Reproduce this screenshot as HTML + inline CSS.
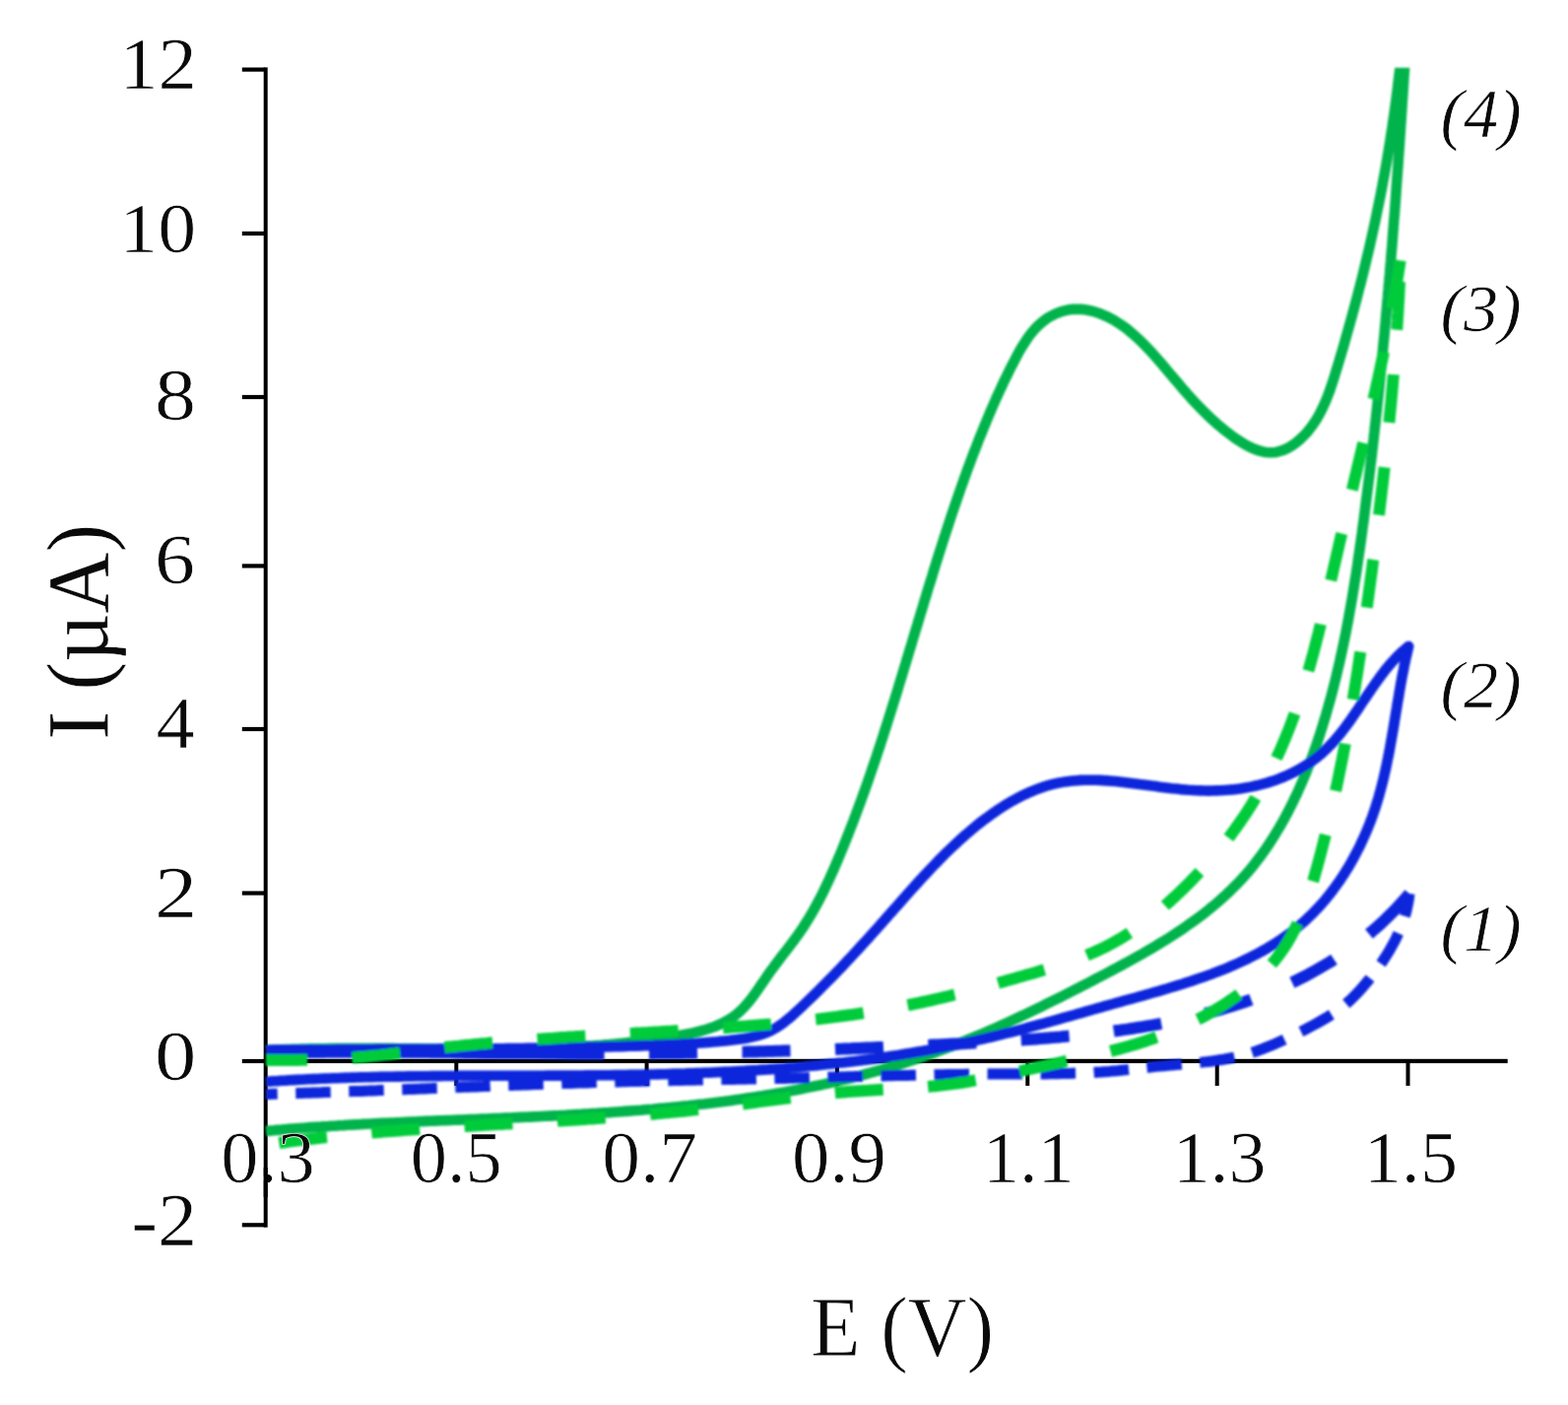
<!DOCTYPE html>
<html lang="en"><head><meta charset="utf-8"><title>Cyclic voltammograms</title>
<style>html,body{margin:0;padding:0;background:#fff}body{width:1592px;height:1426px;overflow:hidden}svg{display:block}text{font-family:"Liberation Serif",serif;fill:#0a0a0a}.c{fill:none;stroke-linejoin:round}</style></head><body>
<svg width="1592" height="1426" viewBox="0 0 1592 1426" role="img" aria-label="Cyclic voltammograms, I (µA) versus E (V)">
<rect width="1592" height="1426" fill="#fff"/>
<g fill="#000">
<rect x="267.7" y="68.4" width="4" height="1177.3"/>
<rect x="267.7" y="1074.8" width="1263" height="4.3"/>
<rect x="245.8" y="68.5" width="23" height="4.2"/>
<rect x="245.8" y="234.9" width="23" height="4.2"/>
<rect x="245.8" y="400.9" width="23" height="4.2"/>
<rect x="245.8" y="572.3" width="23" height="4.2"/>
<rect x="245.8" y="737.9" width="23" height="4.2"/>
<rect x="245.8" y="904.4" width="23" height="4.2"/>
<rect x="245.8" y="1074.9" width="23" height="4.2"/>
<rect x="245.8" y="1241.2" width="23" height="4.2"/>
<rect x="461.3" y="1077" width="4" height="25"/>
<rect x="654.6" y="1077" width="4" height="25"/>
<rect x="847.9" y="1077" width="4" height="25"/>
<rect x="1041.3" y="1077" width="4" height="25"/>
<rect x="1233.7" y="1077" width="4" height="25"/>
<rect x="1427.5" y="1077" width="4" height="25"/>
</g>
<defs><filter id="soft" x="0" y="0" width="1592" height="1426" filterUnits="userSpaceOnUse"><feGaussianBlur stdDeviation="1.1"/></filter></defs>
<g class="c" filter="url(#soft)">
<path d="M270.0,1066.0L274.0,1065.8L278.1,1065.6L282.1,1065.4L286.2,1065.3L290.2,1065.1L294.3,1065.0L298.3,1064.8L302.3,1064.7L306.4,1064.6L310.4,1064.5L314.4,1064.4L318.5,1064.3L322.5,1064.3L326.5,1064.2L330.5,1064.2L334.6,1064.1L338.6,1064.1L342.6,1064.0L346.6,1064.0L350.6,1064.0L354.7,1064.0L358.7,1064.0L362.7,1064.0L366.7,1064.0L370.7,1064.0L374.7,1064.0L378.7,1064.0L382.8,1064.0L386.8,1064.1L390.8,1064.1L394.8,1064.1L398.8,1064.1L402.8,1064.2L406.8,1064.2L410.8,1064.3L414.8,1064.3L418.8,1064.3L422.8,1064.4L426.8,1064.4L430.8,1064.5L434.8,1064.5L438.8,1064.6L442.8,1064.6L446.8,1064.6L450.8,1064.7L454.8,1064.7L458.8,1064.7L462.8,1064.8L466.8,1064.8L470.8,1064.8L474.8,1064.8L478.8,1064.8L482.8,1064.8L486.8,1064.9L490.8,1064.9L494.8,1064.8L498.8,1064.8L502.8,1064.8L506.8,1064.8L510.7,1064.8L514.7,1064.7L518.7,1064.7L522.7,1064.6L526.7,1064.6L530.7,1064.5L534.7,1064.4L538.7,1064.3L542.7,1064.2L546.7,1064.1L550.7,1064.0L554.7,1063.9L558.7,1063.7L562.7,1063.6L566.7,1063.4L570.7,1063.2L574.7,1063.0L578.7,1062.8L582.7,1062.6L586.7,1062.4L590.7,1062.2L594.7,1061.9L598.8,1061.6L602.8,1061.4L606.8,1061.1L610.8,1060.8L614.8,1060.4L618.8,1060.1L622.8,1059.7L626.8,1059.3L630.8,1058.9L634.9,1058.5L638.9,1058.1L642.9,1057.7L646.9,1057.2L650.9,1056.7L654.9,1056.2L659.0,1055.7L663.0,1055.1L667.0,1054.6L671.0,1054.0L675.1,1053.4L679.1,1052.8L683.1,1052.1L687.2,1051.5L691.2,1050.8L695.2,1050.0L699.2,1049.2L703.2,1048.4L707.2,1047.5L711.1,1046.5L714.9,1045.5L718.7,1044.3L722.5,1043.0L726.2,1041.7L729.8,1040.1L733.3,1038.5L736.8,1036.7L740.1,1034.8L743.4,1032.7L746.5,1030.4L749.6,1028.0L752.5,1025.3L755.3,1022.5L757.9,1019.5L760.6,1016.4L763.1,1013.2L765.6,1009.9L768.0,1006.5L770.4,1003.1L772.7,999.6L775.1,996.2L777.5,992.7L779.8,989.3L782.2,985.9L784.7,982.6L787.1,979.3L789.6,976.1L792.0,972.8L794.5,969.6L796.9,966.4L799.4,963.3L801.8,960.1L804.2,956.9L806.6,953.7L808.9,950.5L811.2,947.3L813.5,944.0L815.7,940.8L817.8,937.4L819.9,934.1L822.0,930.7L824.0,927.3L826.0,923.9L827.9,920.4L829.8,916.9L831.7,913.4L833.5,909.9L835.3,906.3L837.1,902.7L838.8,899.1L840.5,895.5L842.2,891.9L843.8,888.2L845.5,884.6L847.1,880.9L848.7,877.2L850.2,873.6L851.8,869.9L853.3,866.2L854.9,862.5L856.4,858.8L857.9,855.1L859.4,851.3L860.9,847.6L862.3,843.9L863.8,840.1L865.2,836.4L866.7,832.7L868.1,828.9L869.5,825.2L870.9,821.4L872.3,817.6L873.7,813.9L875.1,810.1L876.4,806.3L877.8,802.6L879.1,798.8L880.5,795.0L881.8,791.2L883.1,787.4L884.4,783.6L885.7,779.8L887.0,776.0L888.3,772.2L889.6,768.4L890.8,764.6L892.1,760.8L893.4,757.0L894.6,753.1L895.9,749.3L897.1,745.5L898.3,741.7L899.6,737.8L900.8,734.0L902.0,730.2L903.2,726.3L904.4,722.5L905.6,718.7L906.8,714.8L908.0,711.0L909.2,707.1L910.4,703.3L911.6,699.4L912.7,695.6L913.9,691.7L915.1,687.9L916.3,684.0L917.4,680.2L918.6,676.3L919.8,672.5L920.9,668.6L922.1,664.8L923.2,660.9L924.4,657.1L925.6,653.2L926.7,649.4L927.9,645.5L929.0,641.7L930.2,637.8L931.4,634.0L932.5,630.1L933.7,626.3L934.8,622.4L936.0,618.6L937.2,614.7L938.3,610.9L939.5,607.0L940.7,603.2L941.8,599.3L943.0,595.5L944.2,591.6L945.4,587.8L946.6,584.0L947.7,580.1L948.9,576.3L950.1,572.5L951.3,568.6L952.5,564.8L953.7,561.0L955.0,557.2L956.2,553.3L957.4,549.5L958.6,545.7L959.9,541.9L961.1,538.1L962.4,534.3L963.6,530.5L964.9,526.7L966.1,522.9L967.4,519.1L968.7,515.3L970.0,511.5L971.3,507.7L972.6,504.0L973.9,500.2L975.2,496.4L976.5,492.7L977.9,488.9L979.2,485.1L980.6,481.4L981.9,477.6L983.3,473.9L984.7,470.2L986.1,466.4L987.5,462.7L988.9,459.0L990.4,455.3L991.8,451.6L993.2,447.8L994.7,444.1L996.2,440.4L997.7,436.8L999.2,433.1L1000.7,429.4L1002.2,425.7L1003.8,422.0L1005.3,418.4L1006.9,414.7L1008.5,411.0L1010.1,407.4L1011.7,403.7L1013.4,400.1L1015.1,396.4L1016.8,392.7L1018.5,389.1L1020.2,385.4L1022.0,381.8L1023.8,378.1L1025.6,374.4L1027.5,370.8L1029.4,367.1L1031.3,363.4L1033.2,359.8L1035.2,356.1L1037.3,352.6L1039.5,349.1L1041.7,345.6L1044.0,342.3L1046.4,339.0L1049.0,335.9L1051.6,333.0L1054.4,330.2L1057.4,327.5L1060.5,325.1L1063.7,322.8L1067.1,320.8L1070.6,319.0L1074.3,317.4L1078.0,316.1L1081.8,315.1L1085.6,314.3L1089.6,313.9L1093.5,313.7L1097.5,313.9L1101.4,314.3L1105.4,315.0L1109.3,315.9L1113.1,317.0L1116.8,318.3L1120.5,319.8L1124.1,321.4L1127.6,323.2L1131.1,325.1L1134.5,327.2L1137.8,329.3L1141.1,331.6L1144.3,334.0L1147.4,336.6L1150.5,339.2L1153.5,341.9L1156.5,344.6L1159.5,347.5L1162.4,350.4L1165.2,353.4L1168.1,356.4L1170.9,359.5L1173.6,362.5L1176.4,365.7L1179.1,368.8L1181.8,372.0L1184.4,375.1L1187.1,378.3L1189.7,381.4L1192.3,384.5L1195.0,387.6L1197.6,390.7L1200.2,393.8L1202.8,396.8L1205.4,399.8L1208.1,402.7L1210.7,405.7L1213.4,408.6L1216.1,411.4L1218.9,414.3L1221.6,417.1L1224.5,419.9L1227.3,422.6L1230.2,425.3L1233.2,428.0L1236.2,430.7L1239.3,433.3L1242.4,435.9L1245.6,438.4L1248.9,440.9L1252.3,443.4L1255.7,445.8L1259.2,448.1L1262.8,450.3L1266.4,452.3L1270.0,454.2L1273.7,455.8L1277.4,457.1L1281.1,458.2L1284.7,458.9L1288.4,459.3L1292.0,459.3L1295.6,458.9L1299.2,458.0L1302.7,456.9L1306.2,455.4L1309.5,453.6L1312.8,451.5L1316.0,449.2L1319.1,446.7L1322.0,444.0L1324.8,441.2L1327.5,438.2L1330.0,435.1L1332.4,431.9L1334.7,428.6L1336.8,425.3L1338.8,421.8L1340.7,418.3L1342.5,414.7L1344.2,411.0L1345.8,407.3L1347.4,403.5L1348.9,399.7L1350.3,395.9L1351.6,392.0L1352.9,388.1L1354.2,384.2L1355.4,380.3L1356.6,376.3L1357.8,372.4L1359.0,368.5L1360.2,364.5L1361.3,360.6L1362.5,356.7L1363.7,352.8L1364.8,348.8L1365.9,344.9L1367.0,341.0L1368.1,337.1L1369.2,333.2L1370.3,329.3L1371.4,325.4L1372.5,321.5L1373.5,317.6L1374.6,313.8L1375.6,309.9L1376.7,306.0L1377.7,302.1L1378.7,298.2L1379.7,294.3L1380.7,290.5L1381.7,286.6L1382.7,282.7L1383.7,278.8L1384.6,275.0L1385.6,271.1L1386.5,267.2L1387.4,263.3L1388.3,259.5L1389.3,255.6L1390.2,251.7L1391.1,247.8L1391.9,244.0L1392.8,240.1L1393.7,236.2L1394.5,232.3L1395.4,228.4L1396.2,224.6L1397.0,220.7L1397.8,216.8L1398.6,212.9L1399.4,209.0L1400.2,205.1L1401.0,201.2L1401.8,197.3L1402.5,193.4L1403.3,189.5L1404.0,185.6L1404.7,181.7L1405.5,177.8L1406.2,173.8L1406.9,169.9L1407.6,166.0L1408.3,162.0L1408.9,158.1L1409.6,154.2L1410.2,150.2L1410.9,146.3L1411.5,142.3L1412.1,138.3L1412.7,134.4L1413.4,130.4L1413.9,126.4L1414.5,122.4L1415.1,118.4L1415.7,114.4L1416.2,110.4L1416.8,106.4L1417.3,102.4L1417.8,98.3L1418.3,94.3L1418.9,90.2L1419.3,86.2L1419.8,82.1L1420.3,78.1L1420.8,74.0L1425.7,74.0L1425.4,78.0L1425.2,82.0L1424.9,86.0L1424.7,90.0L1424.4,94.0L1424.2,97.9L1423.9,101.9L1423.6,105.9L1423.4,109.9L1423.1,113.9L1422.8,117.9L1422.6,121.9L1422.3,125.9L1422.0,129.9L1421.8,133.9L1421.5,137.9L1421.2,141.9L1421.0,145.9L1420.7,149.9L1420.4,153.9L1420.1,157.9L1419.8,161.9L1419.6,165.9L1419.3,169.9L1419.0,173.9L1418.7,177.9L1418.4,181.9L1418.1,185.9L1417.8,189.9L1417.5,193.9L1417.3,197.9L1417.0,201.9L1416.7,205.9L1416.4,209.9L1416.1,213.9L1415.8,217.9L1415.4,221.9L1415.1,226.0L1414.8,230.0L1414.5,234.0L1414.2,238.0L1413.9,242.0L1413.6,246.0L1413.3,250.0L1412.9,254.0L1412.6,258.0L1412.3,262.0L1412.0,266.0L1411.6,270.0L1411.3,274.0L1411.0,278.0L1410.6,282.0L1410.3,286.0L1409.9,290.0L1409.6,294.0L1409.2,298.0L1408.9,302.0L1408.5,306.1L1408.2,310.1L1407.8,314.1L1407.5,318.1L1407.1,322.1L1406.8,326.1L1406.4,330.1L1406.0,334.1L1405.7,338.1L1405.3,342.1L1404.9,346.1L1404.5,350.1L1404.1,354.1L1403.8,358.1L1403.4,362.1L1403.0,366.1L1402.6,370.1L1402.2,374.1L1401.8,378.1L1401.4,382.1L1401.0,386.1L1400.6,390.0L1400.2,394.0L1399.8,398.0L1399.4,402.0L1398.9,406.0L1398.5,410.0L1398.1,414.0L1397.7,418.0L1397.2,422.0L1396.8,426.0L1396.4,430.0L1395.9,433.9L1395.5,437.9L1395.0,441.9L1394.6,445.9L1394.1,449.9L1393.7,453.9L1393.2,457.8L1392.8,461.8L1392.3,465.8L1391.8,469.8L1391.3,473.8L1390.9,477.7L1390.4,481.7L1389.9,485.7L1389.4,489.7L1388.9,493.6L1388.4,497.6L1387.9,501.6L1387.4,505.5L1386.9,509.5L1386.4,513.5L1385.9,517.4L1385.4,521.4L1384.9,525.4L1384.4,529.3L1383.8,533.3L1383.3,537.2L1382.8,541.2L1382.2,545.2L1381.7,549.1L1381.1,553.1L1380.6,557.0L1380.0,561.0L1379.4,564.9L1378.8,568.9L1378.3,572.8L1377.7,576.8L1377.1,580.7L1376.5,584.6L1375.8,588.6L1375.2,592.5L1374.6,596.5L1373.9,600.4L1373.3,604.3L1372.6,608.3L1371.9,612.2L1371.2,616.2L1370.5,620.1L1369.8,624.0L1369.1,628.0L1368.4,631.9L1367.6,635.8L1366.9,639.7L1366.1,643.7L1365.3,647.6L1364.5,651.5L1363.7,655.5L1362.8,659.4L1362.0,663.3L1361.1,667.2L1360.3,671.1L1359.4,675.1L1358.4,679.0L1357.5,682.9L1356.6,686.8L1355.6,690.7L1354.6,694.7L1353.6,698.6L1352.6,702.5L1351.6,706.4L1350.5,710.3L1349.4,714.2L1348.3,718.1L1347.2,722.0L1346.1,726.0L1344.9,729.9L1343.7,733.8L1342.5,737.7L1341.3,741.5L1340.1,745.4L1338.8,749.3L1337.5,753.2L1336.2,757.0L1334.8,760.9L1333.5,764.7L1332.1,768.5L1330.6,772.3L1329.2,776.1L1327.7,779.9L1326.2,783.7L1324.7,787.4L1323.1,791.2L1321.5,794.9L1319.9,798.6L1318.2,802.3L1316.6,806.0L1314.8,809.6L1313.1,813.3L1311.3,816.9L1309.5,820.4L1307.7,824.0L1305.8,827.5L1303.9,831.1L1302.0,834.5L1300.0,838.0L1298.0,841.4L1295.9,844.8L1293.9,848.2L1291.7,851.6L1289.6,854.9L1287.4,858.2L1285.2,861.4L1282.9,864.7L1280.6,867.9L1278.3,871.0L1275.9,874.1L1273.5,877.2L1271.0,880.3L1268.5,883.3L1266.0,886.3L1263.4,889.2L1260.8,892.1L1258.1,895.0L1255.4,897.8L1252.6,900.6L1249.9,903.3L1247.0,906.0L1244.2,908.7L1241.3,911.3L1238.3,913.9L1235.4,916.5L1232.4,919.0L1229.3,921.5L1226.3,924.0L1223.2,926.5L1220.0,928.9L1216.9,931.3L1213.7,933.6L1210.5,935.9L1207.2,938.2L1204.0,940.5L1200.7,942.8L1197.4,945.0L1194.0,947.2L1190.7,949.4L1187.3,951.6L1183.9,953.7L1180.5,955.8L1177.0,957.9L1173.6,960.0L1170.1,962.1L1166.6,964.1L1163.1,966.1L1159.6,968.2L1156.1,970.2L1152.5,972.2L1149.0,974.1L1145.4,976.1L1141.8,978.0L1138.2,980.0L1134.7,981.9L1131.1,983.8L1127.5,985.7L1123.9,987.7L1120.3,989.6L1116.6,991.4L1113.0,993.3L1109.4,995.2L1105.8,997.1L1102.2,999.0L1098.6,1000.8L1094.9,1002.7L1091.3,1004.5L1087.7,1006.4L1084.1,1008.2L1080.4,1010.1L1076.8,1011.9L1073.2,1013.7L1069.5,1015.5L1065.9,1017.3L1062.3,1019.1L1058.6,1020.9L1055.0,1022.7L1051.3,1024.5L1047.7,1026.2L1044.0,1028.0L1040.4,1029.7L1036.7,1031.4L1033.1,1033.1L1029.4,1034.8L1025.7,1036.5L1022.1,1038.2L1018.4,1039.9L1014.7,1041.5L1011.0,1043.2L1007.4,1044.8L1003.7,1046.4L1000.0,1048.0L996.3,1049.6L992.6,1051.1L988.9,1052.7L985.2,1054.2L981.5,1055.7L977.8,1057.3L974.0,1058.7L970.3,1060.2L966.6,1061.7L962.8,1063.1L959.1,1064.5L955.4,1065.9L951.6,1067.3L947.9,1068.7L944.1,1070.0L940.3,1071.3L936.6,1072.7L932.8,1073.9L929.0,1075.2L925.2,1076.5L921.4,1077.7L917.7,1078.9L913.9,1080.1L910.1,1081.3L906.2,1082.4L902.4,1083.6L898.6,1084.7L894.8,1085.8L891.0,1086.9L887.1,1087.9L883.3,1089.0L879.5,1090.0L875.6,1091.1L871.8,1092.1L867.9,1093.0L864.0,1094.0L860.2,1095.0L856.3,1095.9L852.5,1096.8L848.6,1097.7L844.7,1098.6L840.8,1099.5L836.9,1100.4L833.0,1101.2L829.1,1102.0L825.2,1102.8L821.3,1103.6L817.4,1104.4L813.5,1105.2L809.6,1106.0L805.7,1106.7L801.8,1107.4L797.9,1108.2L793.9,1108.9L790.0,1109.5L786.1,1110.2L782.1,1110.9L778.2,1111.5L774.3,1112.2L770.3,1112.8L766.4,1113.4L762.4,1114.0L758.5,1114.6L754.5,1115.2L750.6,1115.8L746.6,1116.3L742.6,1116.9L738.7,1117.4L734.7,1117.9L730.7,1118.4L726.7,1118.9L722.8,1119.4L718.8,1119.9L714.8,1120.4L710.8,1120.8L706.8,1121.3L702.8,1121.7L698.9,1122.2L694.9,1122.6L690.9,1123.0L686.9,1123.4L682.9,1123.8L678.9,1124.2L674.9,1124.6L670.9,1124.9L666.9,1125.3L662.9,1125.7L658.8,1126.0L654.8,1126.3L650.8,1126.7L646.8,1127.0L642.8,1127.3L638.8,1127.6L634.8,1127.9L630.7,1128.2L626.7,1128.5L622.7,1128.8L618.7,1129.1L614.6,1129.3L610.6,1129.6L606.6,1129.9L602.6,1130.1L598.5,1130.4L594.5,1130.6L590.5,1130.9L586.5,1131.1L582.4,1131.3L578.4,1131.5L574.4,1131.8L570.3,1132.0L566.3,1132.2L562.3,1132.4L558.2,1132.6L554.2,1132.8L550.2,1133.0L546.1,1133.2L542.1,1133.4L538.0,1133.6L534.0,1133.8L530.0,1133.9L525.9,1134.1L521.9,1134.3L517.9,1134.5L513.8,1134.6L509.8,1134.8L505.8,1135.0L501.7,1135.1L497.7,1135.3L493.7,1135.5L489.6,1135.6L485.6,1135.8L481.6,1136.0L477.5,1136.1L473.5,1136.3L469.5,1136.5L465.5,1136.6L461.4,1136.8L457.4,1137.0L453.4,1137.1L449.3,1137.3L445.3,1137.4L441.3,1137.6L437.3,1137.8L433.3,1137.9L429.2,1138.1L425.2,1138.3L421.2,1138.5L417.2,1138.6L413.2,1138.8L409.2,1139.0L405.1,1139.2L401.1,1139.4L397.1,1139.5L393.1,1139.7L389.1,1139.9L385.1,1140.1L381.1,1140.3L377.1,1140.5L373.1,1140.7L369.1,1140.9L365.1,1141.2L361.1,1141.4L357.1,1141.6L353.2,1141.8L349.2,1142.1L345.2,1142.3L341.2,1142.6L337.2,1142.8L333.3,1143.1L329.3,1143.3L325.3,1143.6L321.3,1143.8L317.4,1144.1L313.4,1144.4L309.5,1144.7L305.5,1145.0L301.5,1145.3L297.6,1145.6L293.6,1145.9L289.7,1146.2L285.8,1146.6L281.8,1146.9L277.9,1147.3L273.9,1147.6L270.0,1148.0" stroke="#00b44c" stroke-width="10.6" stroke-linejoin="miter"/>
<path d="M1431.0,907.0L1428.4,910.1L1425.7,913.2L1422.9,916.3L1420.2,919.3L1417.4,922.3L1414.6,925.2L1411.7,928.1L1408.8,930.9L1405.9,933.7L1403.0,936.5L1400.0,939.2L1397.0,941.9L1393.9,944.5L1390.9,947.1L1387.8,949.7L1384.7,952.2L1381.5,954.7L1378.3,957.1L1375.1,959.5L1371.9,961.9L1368.7,964.2L1365.4,966.5L1362.1,968.7L1358.8,970.9L1355.4,973.1L1352.1,975.3L1348.7,977.4L1345.2,979.4L1341.8,981.4L1338.4,983.4L1334.9,985.4L1331.4,987.3L1327.9,989.2L1324.3,991.1L1320.8,992.9L1317.2,994.7L1313.6,996.4L1310.0,998.1L1306.4,999.8L1302.8,1001.5L1299.1,1003.1L1295.4,1004.7L1291.7,1006.2L1288.0,1007.7L1284.3,1009.2L1280.6,1010.7L1276.9,1012.1L1273.1,1013.5L1269.4,1014.9L1265.6,1016.2L1261.8,1017.5L1258.0,1018.8L1254.2,1020.0L1250.4,1021.2L1246.6,1022.4L1242.7,1023.6L1238.9,1024.7L1235.1,1025.8L1231.2,1026.9L1227.3,1027.9L1223.5,1028.9L1219.6,1029.9L1215.7,1030.9L1211.8,1031.9L1207.9,1032.8L1204.0,1033.7L1200.1,1034.6L1196.1,1035.4L1192.2,1036.2L1188.3,1037.0L1184.3,1037.8L1180.4,1038.6L1176.5,1039.3L1172.5,1040.1L1168.5,1040.8L1164.6,1041.4L1160.6,1042.1L1156.6,1042.7L1152.6,1043.4L1148.7,1044.0L1144.7,1044.6L1140.7,1045.1L1136.7,1045.7L1132.7,1046.2L1128.7,1046.8L1124.7,1047.3L1120.7,1047.8L1116.7,1048.3L1112.7,1048.7L1108.7,1049.2L1104.6,1049.6L1100.6,1050.0L1096.6,1050.5L1092.6,1050.9L1088.6,1051.3L1084.6,1051.6L1080.5,1052.0L1076.5,1052.4L1072.5,1052.7L1068.5,1053.1L1064.5,1053.4L1060.4,1053.7L1056.4,1054.1L1052.4,1054.4L1048.4,1054.7L1044.4,1055.0L1040.4,1055.3L1036.3,1055.5L1032.3,1055.8L1028.3,1056.1L1024.3,1056.3L1020.3,1056.6L1016.3,1056.9L1012.3,1057.1L1008.2,1057.4L1004.2,1057.6L1000.2,1057.8L996.2,1058.1L992.2,1058.3L988.2,1058.5L984.2,1058.7L980.2,1058.9L976.2,1059.2L972.2,1059.4L968.1,1059.6L964.1,1059.8L960.1,1060.0L956.1,1060.2L952.1,1060.4L948.1,1060.6L944.1,1060.8L940.1,1061.0L936.1,1061.2L932.1,1061.4L928.1,1061.5L924.0,1061.7L920.0,1061.9L916.0,1062.1L912.0,1062.3L908.0,1062.4L904.0,1062.6L900.0,1062.8L896.0,1063.0L892.0,1063.1L888.0,1063.3L884.0,1063.5L880.0,1063.6L876.0,1063.8L871.9,1064.0L867.9,1064.1L863.9,1064.3L859.9,1064.4L855.9,1064.6L851.9,1064.7L847.9,1064.9L843.9,1065.0L839.9,1065.2L835.9,1065.3L831.9,1065.4L827.9,1065.6L823.9,1065.7L819.9,1065.8L815.8,1066.0L811.8,1066.1L807.8,1066.2L803.8,1066.4L799.8,1066.5L795.8,1066.6L791.8,1066.7L787.8,1066.8L783.8,1066.9L779.8,1067.0L775.8,1067.2L771.8,1067.3L767.8,1067.4L763.7,1067.5L759.7,1067.6L755.7,1067.7L751.7,1067.7L747.7,1067.8L743.7,1067.9L739.7,1068.0L735.7,1068.1L731.7,1068.2L727.7,1068.3L723.7,1068.3L719.6,1068.4L715.6,1068.5L711.6,1068.5L707.6,1068.6L703.6,1068.7L699.6,1068.7L695.6,1068.8L691.6,1068.9L687.6,1068.9L683.6,1069.0L679.5,1069.0L675.5,1069.1L671.5,1069.1L667.5,1069.1L663.5,1069.2L659.5,1069.2L655.5,1069.2L651.5,1069.3L647.5,1069.3L643.4,1069.3L639.4,1069.4L635.4,1069.4L631.4,1069.4L627.4,1069.4L623.4,1069.4L619.4,1069.4L615.3,1069.4L611.3,1069.4L607.3,1069.4L603.3,1069.4L599.3,1069.4L595.3,1069.4L591.3,1069.4L587.2,1069.4L583.2,1069.4L579.2,1069.4L575.2,1069.4L571.2,1069.3L567.2,1069.3L563.1,1069.3L559.1,1069.3L555.1,1069.3L551.1,1069.2L547.1,1069.2L543.0,1069.2L539.0,1069.1L535.0,1069.1L531.0,1069.1L527.0,1069.0L523.0,1069.0L518.9,1069.0L514.9,1068.9L510.9,1068.9L506.9,1068.9L502.9,1068.8L498.8,1068.8L494.8,1068.8L490.8,1068.7L486.8,1068.7L482.8,1068.6L478.8,1068.6L474.7,1068.6L470.7,1068.5L466.7,1068.5L462.7,1068.4L458.7,1068.4L454.6,1068.4L450.6,1068.3L446.6,1068.3L442.6,1068.2L438.6,1068.2L434.6,1068.2L430.5,1068.1L426.5,1068.1L422.5,1068.1L418.5,1068.0L414.5,1068.0L410.4,1068.0L406.4,1067.9L402.4,1067.9L398.4,1067.9L394.4,1067.9L390.4,1067.9L386.3,1067.8L382.3,1067.8L378.3,1067.8L374.3,1067.8L370.3,1067.8L366.3,1067.8L362.3,1067.7L358.2,1067.7L354.2,1067.7L350.2,1067.7L346.2,1067.7L342.2,1067.7L338.2,1067.7L334.2,1067.7L330.1,1067.8L326.1,1067.8L322.1,1067.8L318.1,1067.8L314.1,1067.8L310.1,1067.9L306.1,1067.9L302.1,1067.9L298.1,1068.0L294.0,1068.0L290.0,1068.0L286.0,1068.1L282.0,1068.1L278.0,1068.2L274.0,1068.2L270.0,1068.3" stroke="#0a26dc" stroke-width="12" stroke-dasharray="58 44 48.6 45 49 45.5 49 45.5 49 45.5 49 45.5 49 45.5 49 45.5 49 45.5 49 45.5 49 45.5 49 45.5 49 45.5 49 45.5 49 45.5 49 45.5"/>
<path d="M270.0,1068.3L274.0,1068.2L278.0,1068.2L282.0,1068.1L286.0,1068.1L290.0,1068.0L294.1,1068.0L298.1,1068.0L302.1,1067.9L306.1,1067.9L310.1,1067.9L314.1,1067.8L318.1,1067.8L322.1,1067.8L326.2,1067.8L330.2,1067.8L334.2,1067.8L338.2,1067.8L342.2,1067.7L346.2,1067.7L350.2,1067.7L354.2,1067.7L358.3,1067.7L362.3,1067.7L366.3,1067.8L370.3,1067.8L374.3,1067.8L378.3,1067.8L382.3,1067.8L386.4,1067.8L390.4,1067.8L394.4,1067.9L398.4,1067.9L402.4,1067.9L406.4,1067.9L410.5,1068.0L414.5,1068.0L418.5,1068.0L422.5,1068.0L426.5,1068.1L430.5,1068.1L434.6,1068.1L438.6,1068.2L442.6,1068.2L446.6,1068.2L450.6,1068.3L454.6,1068.3L458.7,1068.3L462.7,1068.4L466.7,1068.4L470.7,1068.5L474.7,1068.5L478.7,1068.5L482.8,1068.6L486.8,1068.6L490.8,1068.6L494.8,1068.7L498.8,1068.7L502.9,1068.8L506.9,1068.8L510.9,1068.8L514.9,1068.9L518.9,1068.9L522.9,1068.9L527.0,1069.0L531.0,1069.0L535.0,1069.0L539.0,1069.1L543.0,1069.1L547.0,1069.1L551.1,1069.2L555.1,1069.2L559.1,1069.2L563.1,1069.2L567.1,1069.3L571.1,1069.3L575.2,1069.3L579.2,1069.3L583.2,1069.3L587.2,1069.4L591.2,1069.4L595.2,1069.4L599.3,1069.4L603.3,1069.4L607.3,1069.4L611.3,1069.4" stroke="#0a26dc" stroke-width="12"/>
<path d="M270.0,1110.5L274.0,1110.4L278.0,1110.3L282.1,1110.2L286.1,1110.1L290.1,1109.9L294.1,1109.8L298.1,1109.7L302.2,1109.6L306.2,1109.4L310.2,1109.3L314.2,1109.2L318.3,1109.0L322.3,1108.9L326.3,1108.8L330.3,1108.6L334.3,1108.5L338.4,1108.4L342.4,1108.2L346.4,1108.1L350.4,1107.9L354.4,1107.8L358.5,1107.6L362.5,1107.5L366.5,1107.4L370.5,1107.2L374.5,1107.1L378.6,1106.9L382.6,1106.8L386.6,1106.6L390.6,1106.5L394.6,1106.3L398.7,1106.1L402.7,1106.0L406.7,1105.8L410.7,1105.7L414.7,1105.5L418.8,1105.4L422.8,1105.2L426.8,1105.1L430.8,1104.9L434.8,1104.7L438.9,1104.6L442.9,1104.4L446.9,1104.3L450.9,1104.1L454.9,1104.0L458.9,1103.8L463.0,1103.6L467.0,1103.5L471.0,1103.3L475.0,1103.2L479.0,1103.0L483.1,1102.9L487.1,1102.7L491.1,1102.6L495.1,1102.4L499.1,1102.2L503.2,1102.1L507.2,1101.9L511.2,1101.8L515.2,1101.6L519.2,1101.5L523.3,1101.3L527.3,1101.2L531.3,1101.0L535.3,1100.9L539.3,1100.8L543.4,1100.6L547.4,1100.5L551.4,1100.3L555.4,1100.2L559.4,1100.0L563.5,1099.9L567.5,1099.8L571.5,1099.6L575.5,1099.5L579.5,1099.4L583.6,1099.2L587.6,1099.1L591.6,1099.0L595.6,1098.9L599.6,1098.7L603.7,1098.6L607.7,1098.5L611.7,1098.4L615.7,1098.3L619.7,1098.1L623.8,1098.0L627.8,1097.9L631.8,1097.8L635.8,1097.7L639.9,1097.6L643.9,1097.5L647.9,1097.4L651.9,1097.3L655.9,1097.2L660.0,1097.1L664.0,1097.0L668.0,1096.9L672.0,1096.8L676.0,1096.8L680.1,1096.7L684.1,1096.6L688.1,1096.5L692.1,1096.4L696.2,1096.3L700.2,1096.3L704.2,1096.2L708.2,1096.1L712.2,1096.0L716.3,1095.9L720.3,1095.9L724.3,1095.8L728.3,1095.7L732.4,1095.6L736.4,1095.6L740.4,1095.5L744.4,1095.4L748.4,1095.3L752.5,1095.3L756.5,1095.2L760.5,1095.1L764.5,1095.0L768.6,1094.9L772.6,1094.9L776.6,1094.8L780.6,1094.7L784.6,1094.6L788.7,1094.5L792.7,1094.5L796.7,1094.4L800.7,1094.3L804.7,1094.2L808.8,1094.1L812.8,1094.0L816.8,1093.9L820.8,1093.8L824.9,1093.7L828.9,1093.6L832.9,1093.5L836.9,1093.4L840.9,1093.3L845.0,1093.2L849.0,1093.1L853.0,1093.0L857.0,1092.9L861.0,1092.8L865.1,1092.7L869.1,1092.6L873.1,1092.5L877.1,1092.4L881.1,1092.3L885.2,1092.2L889.2,1092.1L893.2,1092.0L897.2,1091.9L901.2,1091.8L905.3,1091.7L909.3,1091.6L913.3,1091.6L917.3,1091.5L921.3,1091.4L925.4,1091.3L929.4,1091.2L933.4,1091.1L937.4,1091.0L941.5,1091.0L945.5,1090.9L949.5,1090.8L953.5,1090.7L957.5,1090.7L961.6,1090.6L965.6,1090.5L969.6,1090.5L973.6,1090.4L977.7,1090.4L981.7,1090.3L985.7,1090.3L989.7,1090.2L993.7,1090.2L997.8,1090.1L1001.8,1090.1L1005.8,1090.1L1009.8,1090.1L1013.9,1090.0L1017.9,1090.0L1021.9,1090.0L1025.9,1090.0L1030.0,1090.0L1034.0,1090.0L1038.0,1090.0L1042.1,1090.0L1046.1,1090.0L1050.1,1089.9L1054.1,1089.9L1058.1,1089.9L1062.2,1089.9L1066.2,1089.8L1070.2,1089.8L1074.2,1089.7L1078.3,1089.6L1082.3,1089.5L1086.3,1089.4L1090.3,1089.3L1094.3,1089.2L1098.3,1089.0L1102.4,1088.9L1106.4,1088.7L1110.4,1088.5L1114.4,1088.2L1118.4,1088.0L1122.4,1087.7L1126.4,1087.4L1130.4,1087.0L1134.4,1086.7L1138.4,1086.3L1142.4,1085.9L1146.4,1085.5L1150.4,1085.0L1154.4,1084.6L1158.4,1084.1L1162.4,1083.7L1166.4,1083.3L1170.4,1082.8L1174.4,1082.4L1178.5,1082.0L1182.5,1081.7L1186.5,1081.3L1190.5,1080.9L1194.6,1080.6L1198.6,1080.2L1202.6,1079.9L1206.7,1079.5L1210.7,1079.2L1214.7,1078.8L1218.7,1078.4L1222.7,1077.9L1226.7,1077.5L1230.7,1077.0L1234.7,1076.4L1238.7,1075.8L1242.6,1075.2L1246.5,1074.5L1250.5,1073.7L1254.4,1072.9L1258.2,1072.0L1262.1,1071.0L1265.9,1070.0L1269.8,1068.8L1273.6,1067.6L1277.3,1066.3L1281.1,1064.9L1284.8,1063.4L1288.6,1061.9L1292.3,1060.4L1296.0,1058.7L1299.7,1057.1L1303.4,1055.4L1307.0,1053.7L1310.7,1052.0L1314.4,1050.2L1318.0,1048.4L1321.7,1046.6L1325.3,1044.8L1328.9,1042.9L1332.5,1041.0L1336.0,1039.1L1339.5,1037.1L1343.0,1035.1L1346.5,1033.1L1349.9,1031.0L1353.2,1028.9L1356.5,1026.6L1359.7,1024.3L1362.8,1022.0L1365.9,1019.5L1368.9,1016.9L1371.8,1014.2L1374.6,1011.5L1377.4,1008.6L1380.1,1005.7L1382.8,1002.7L1385.4,999.7L1388.0,996.6L1390.5,993.5L1393.0,990.3L1395.5,987.1L1397.9,983.9L1400.3,980.6L1402.6,977.3L1404.9,973.9L1407.1,970.5L1409.2,967.1L1411.3,963.6L1413.3,960.1L1415.2,956.6L1417.1,953.0L1418.8,949.4L1420.5,945.7L1422.1,942.0L1423.5,938.3L1424.9,934.5L1426.1,930.7L1427.3,926.9L1428.3,923.0L1429.1,919.0L1429.9,915.1L1430.5,911.1L1431.0,907.0" stroke="#0a26dc" stroke-width="11" stroke-dasharray="35.5 18.55" stroke-dashoffset="23.8"/>
<path d="M270.0,1065.7L274.0,1065.7L278.0,1065.6L282.1,1065.6L286.1,1065.5L290.1,1065.5L294.1,1065.5L298.1,1065.4L302.1,1065.4L306.2,1065.4L310.2,1065.3L314.2,1065.3L318.2,1065.3L322.2,1065.3L326.3,1065.2L330.3,1065.2L334.3,1065.2L338.3,1065.2L342.3,1065.1L346.4,1065.1L350.4,1065.1L354.4,1065.1L358.4,1065.1L362.4,1065.0L366.4,1065.0L370.5,1065.0L374.5,1065.0L378.5,1065.0L382.5,1064.9L386.5,1064.9L390.6,1064.9L394.6,1064.9L398.6,1064.9L402.6,1064.9L406.6,1064.8L410.7,1064.8L414.7,1064.8L418.7,1064.8L422.7,1064.8L426.7,1064.7L430.7,1064.7L434.8,1064.7L438.8,1064.7L442.8,1064.7L446.8,1064.6L450.8,1064.6L454.9,1064.6L458.9,1064.6L462.9,1064.6L466.9,1064.5L470.9,1064.5L474.9,1064.5L479.0,1064.4L483.0,1064.4L487.0,1064.4L491.0,1064.4L495.0,1064.3L499.0,1064.3L503.1,1064.2L507.1,1064.2L511.1,1064.2L515.1,1064.1L519.1,1064.1L523.1,1064.0L527.2,1064.0L531.2,1064.0L535.2,1063.9L539.2,1063.9L543.2,1063.8L547.2,1063.7L551.3,1063.7L555.3,1063.6L559.3,1063.6L563.3,1063.5L567.3,1063.4L571.3,1063.4L575.3,1063.3L579.3,1063.2L583.4,1063.2L587.4,1063.1L591.4,1063.0L595.4,1062.9L599.4,1062.8L603.4,1062.8L607.4,1062.7L611.4,1062.6L615.5,1062.5L619.5,1062.4L623.5,1062.3L627.5,1062.2L631.5,1062.1L635.5,1062.0L639.5,1061.8L643.5,1061.7L647.5,1061.6L651.5,1061.5L655.6,1061.3L659.6,1061.2L663.6,1061.1L667.6,1060.9L671.6,1060.7L675.6,1060.6L679.6,1060.4L683.6,1060.2L687.7,1060.0L691.7,1059.8L695.7,1059.5L699.7,1059.3L703.7,1059.0L707.8,1058.8L711.8,1058.5L715.8,1058.2L719.9,1057.9L723.9,1057.5L727.9,1057.2L732.0,1056.8L736.0,1056.4L740.1,1056.0L744.1,1055.5L748.1,1055.1L752.2,1054.5L756.1,1053.9L760.1,1053.2L764.0,1052.3L767.9,1051.4L771.7,1050.3L775.4,1049.1L779.1,1047.7L782.6,1046.1L786.1,1044.2L789.5,1042.2L792.8,1040.0L796.0,1037.7L799.1,1035.2L802.2,1032.6L805.3,1029.9L808.3,1027.1L811.3,1024.4L814.3,1021.6L817.2,1018.8L820.1,1016.0L823.1,1013.2L826.0,1010.4L828.9,1007.5L831.7,1004.7L834.6,1001.8L837.4,999.0L840.3,996.1L843.1,993.2L845.9,990.4L848.7,987.5L851.5,984.6L854.3,981.7L857.1,978.8L859.8,975.8L862.6,972.9L865.3,970.0L868.0,967.0L870.7,964.1L873.4,961.1L876.1,958.2L878.8,955.2L881.5,952.3L884.2,949.3L886.9,946.3L889.6,943.4L892.2,940.4L894.9,937.4L897.5,934.4L900.2,931.4L902.8,928.4L905.5,925.4L908.1,922.4L910.8,919.5L913.4,916.5L916.0,913.5L918.7,910.5L921.3,907.5L924.0,904.5L926.7,901.5L929.3,898.6L932.0,895.6L934.7,892.7L937.4,889.7L940.2,886.8L942.9,883.9L945.6,881.0L948.4,878.1L951.2,875.2L954.0,872.3L956.8,869.5L959.7,866.6L962.6,863.8L965.5,861.0L968.4,858.2L971.4,855.5L974.4,852.7L977.4,850.0L980.4,847.3L983.5,844.7L986.6,842.0L989.8,839.4L992.9,836.8L996.1,834.3L999.4,831.8L1002.6,829.4L1005.9,827.0L1009.3,824.6L1012.6,822.3L1016.0,820.1L1019.4,817.9L1022.9,815.8L1026.3,813.7L1029.8,811.8L1033.3,809.9L1036.9,808.1L1040.5,806.3L1044.1,804.7L1047.7,803.1L1051.3,801.6L1055.0,800.2L1058.7,798.9L1062.4,797.7L1066.2,796.7L1069.9,795.7L1073.7,794.8L1077.5,794.1L1081.4,793.4L1085.2,792.9L1089.1,792.5L1093.0,792.2L1096.9,791.9L1100.8,791.8L1104.7,791.7L1108.7,791.7L1112.7,791.8L1116.6,791.9L1120.6,792.1L1124.7,792.4L1128.7,792.7L1132.7,793.1L1136.8,793.5L1140.8,793.9L1144.9,794.4L1148.9,794.9L1153.0,795.4L1157.1,796.0L1161.2,796.5L1165.3,797.0L1169.4,797.6L1173.5,798.1L1177.6,798.7L1181.7,799.2L1185.9,799.7L1190.0,800.2L1194.1,800.6L1198.2,801.1L1202.3,801.4L1206.4,801.8L1210.5,802.0L1214.6,802.3L1218.7,802.4L1222.8,802.5L1226.9,802.6L1231.0,802.5L1235.1,802.4L1239.1,802.3L1243.2,802.0L1247.2,801.7L1251.2,801.4L1255.2,800.9L1259.2,800.4L1263.1,799.8L1267.0,799.1L1270.9,798.4L1274.8,797.5L1278.6,796.6L1282.4,795.6L1286.2,794.6L1289.9,793.4L1293.6,792.2L1297.3,790.9L1300.9,789.5L1304.5,788.0L1308.1,786.4L1311.5,784.8L1315.0,783.0L1318.4,781.2L1321.7,779.2L1325.0,777.2L1328.3,775.1L1331.5,772.9L1334.6,770.6L1337.7,768.2L1340.7,765.7L1343.6,763.1L1346.5,760.4L1349.3,757.6L1352.1,754.7L1354.8,751.8L1357.4,748.7L1360.0,745.6L1362.6,742.4L1365.1,739.1L1367.5,735.8L1370.0,732.5L1372.4,729.1L1374.8,725.6L1377.1,722.2L1379.5,718.7L1381.8,715.2L1384.1,711.7L1386.5,708.2L1388.8,704.8L1391.2,701.3L1393.5,697.9L1395.9,694.4L1398.3,691.1L1400.7,687.7L1403.1,684.5L1405.6,681.2L1408.1,678.1L1410.7,675.0L1413.3,672.0L1416.0,669.1L1418.7,666.3L1421.5,663.5L1424.3,660.9L1427.2,658.4L1430.2,656.0L1429.3,659.8L1428.4,663.7L1427.5,667.5L1426.7,671.4L1425.8,675.3L1425.1,679.2L1424.3,683.1L1423.5,687.0L1422.8,690.9L1422.1,694.8L1421.4,698.8L1420.7,702.7L1420.1,706.7L1419.4,710.6L1418.7,714.6L1418.1,718.6L1417.4,722.6L1416.8,726.5L1416.1,730.5L1415.5,734.5L1414.8,738.5L1414.1,742.5L1413.4,746.5L1412.7,750.4L1412.0,754.4L1411.3,758.4L1410.6,762.4L1409.8,766.4L1409.0,770.3L1408.2,774.3L1407.4,778.3L1406.5,782.2L1405.6,786.2L1404.7,790.1L1403.7,794.1L1402.7,798.0L1401.7,801.9L1400.6,805.8L1399.5,809.7L1398.3,813.6L1397.1,817.5L1395.9,821.3L1394.5,825.2L1393.2,829.0L1391.8,832.8L1390.3,836.6L1388.8,840.4L1387.2,844.2L1385.6,847.9L1383.9,851.6L1382.2,855.3L1380.5,859.0L1378.6,862.6L1376.8,866.2L1374.9,869.8L1372.9,873.4L1370.9,876.9L1368.8,880.4L1366.7,883.8L1364.6,887.2L1362.3,890.6L1360.1,894.0L1357.8,897.2L1355.4,900.5L1353.0,903.7L1350.6,906.9L1348.1,910.0L1345.6,913.1L1343.0,916.1L1340.3,919.1L1337.7,922.0L1334.9,924.8L1332.2,927.7L1329.3,930.4L1326.5,933.1L1323.6,935.8L1320.6,938.3L1317.6,940.9L1314.6,943.3L1311.5,945.7L1308.4,948.1L1305.2,950.4L1302.0,952.6L1298.8,954.8L1295.5,956.9L1292.2,959.0L1288.8,961.1L1285.4,963.1L1282.0,965.0L1278.5,966.9L1275.1,968.8L1271.5,970.6L1268.0,972.4L1264.4,974.1L1260.8,975.8L1257.2,977.5L1253.5,979.1L1249.9,980.7L1246.2,982.3L1242.5,983.8L1238.7,985.3L1234.9,986.7L1231.2,988.2L1227.4,989.6L1223.6,990.9L1219.7,992.3L1215.9,993.6L1212.0,994.9L1208.1,996.2L1204.3,997.4L1200.4,998.7L1196.5,999.9L1192.5,1001.1L1188.6,1002.3L1184.7,1003.5L1180.8,1004.6L1176.8,1005.8L1172.9,1006.9L1168.9,1008.0L1165.0,1009.2L1161.0,1010.3L1157.1,1011.4L1153.2,1012.5L1149.2,1013.6L1145.3,1014.7L1141.3,1015.7L1137.4,1016.8L1133.5,1017.9L1129.6,1019.0L1125.7,1020.1L1121.8,1021.2L1117.9,1022.3L1114.0,1023.4L1110.1,1024.5L1106.2,1025.6L1102.4,1026.7L1098.5,1027.8L1094.6,1028.9L1090.8,1030.0L1086.9,1031.1L1083.1,1032.1L1079.2,1033.2L1075.4,1034.3L1071.6,1035.4L1067.7,1036.5L1063.9,1037.5L1060.1,1038.6L1056.2,1039.6L1052.4,1040.7L1048.6,1041.7L1044.7,1042.7L1040.9,1043.8L1037.1,1044.8L1033.2,1045.8L1029.4,1046.8L1025.5,1047.8L1021.7,1048.7L1017.8,1049.7L1014.0,1050.7L1010.1,1051.6L1006.3,1052.5L1002.4,1053.4L998.5,1054.3L994.6,1055.2L990.8,1056.1L986.9,1057.0L983.0,1057.8L979.1,1058.6L975.2,1059.5L971.3,1060.3L967.4,1061.1L963.4,1061.9L959.5,1062.6L955.6,1063.4L951.7,1064.1L947.7,1064.9L943.8,1065.6L939.9,1066.3L935.9,1067.0L932.0,1067.6L928.0,1068.3L924.0,1069.0L920.1,1069.6L916.1,1070.3L912.2,1070.9L908.2,1071.5L904.2,1072.1L900.2,1072.7L896.3,1073.2L892.3,1073.8L888.3,1074.4L884.3,1074.9L880.3,1075.4L876.3,1075.9L872.3,1076.5L868.3,1077.0L864.3,1077.4L860.3,1077.9L856.3,1078.4L852.3,1078.8L848.3,1079.3L844.3,1079.7L840.3,1080.1L836.3,1080.6L832.3,1081.0L828.3,1081.4L824.3,1081.7L820.3,1082.1L816.3,1082.5L812.3,1082.8L808.3,1083.2L804.2,1083.5L800.2,1083.8L796.2,1084.2L792.2,1084.5L788.2,1084.8L784.2,1085.1L780.2,1085.4L776.2,1085.6L772.1,1085.9L768.1,1086.2L764.1,1086.4L760.1,1086.6L756.1,1086.9L752.1,1087.1L748.1,1087.3L744.0,1087.5L740.0,1087.7L736.0,1087.9L732.0,1088.1L728.0,1088.3L724.0,1088.5L720.0,1088.7L715.9,1088.8L711.9,1089.0L707.9,1089.1L703.9,1089.3L699.9,1089.4L695.9,1089.6L691.9,1089.7L687.8,1089.8L683.8,1089.9L679.8,1090.0L675.8,1090.2L671.8,1090.3L667.8,1090.4L663.7,1090.5L659.7,1090.5L655.7,1090.6L651.7,1090.7L647.7,1090.8L643.6,1090.8L639.6,1090.9L635.6,1091.0L631.6,1091.0L627.6,1091.1L623.6,1091.1L619.5,1091.2L615.5,1091.2L611.5,1091.3L607.5,1091.3L603.5,1091.4L599.4,1091.4L595.4,1091.4L591.4,1091.5L587.4,1091.5L583.4,1091.5L579.4,1091.5L575.3,1091.6L571.3,1091.6L567.3,1091.6L563.3,1091.6L559.3,1091.6L555.2,1091.6L551.2,1091.7L547.2,1091.7L543.2,1091.7L539.2,1091.7L535.1,1091.7L531.1,1091.7L527.1,1091.7L523.1,1091.7L519.1,1091.7L515.1,1091.8L511.0,1091.8L507.0,1091.8L503.0,1091.8L499.0,1091.8L495.0,1091.8L490.9,1091.8L486.9,1091.8L482.9,1091.9L478.9,1091.9L474.9,1091.9L470.8,1091.9L466.8,1091.9L462.8,1092.0L458.8,1092.0L454.8,1092.0L450.8,1092.0L446.7,1092.1L442.7,1092.1L438.7,1092.1L434.7,1092.2L430.7,1092.2L426.6,1092.3L422.6,1092.3L418.6,1092.4L414.6,1092.4L410.6,1092.5L406.5,1092.6L402.5,1092.6L398.5,1092.7L394.5,1092.8L390.5,1092.8L386.5,1092.9L382.4,1093.0L378.4,1093.1L374.4,1093.2L370.4,1093.3L366.4,1093.4L362.4,1093.5L358.3,1093.6L354.3,1093.8L350.3,1093.9L346.3,1094.0L342.3,1094.2L338.3,1094.3L334.2,1094.5L330.2,1094.6L326.2,1094.8L322.2,1095.0L318.2,1095.1L314.2,1095.3L310.1,1095.5L306.1,1095.7L302.1,1095.9L298.1,1096.1L294.1,1096.3L290.1,1096.6L286.1,1096.8L282.0,1097.1L278.0,1097.3L274.0,1097.6L270.0,1097.8" stroke="#0a26dc" stroke-width="10.6"/>
<path d="M270.0,1076.0L274.0,1076.0L278.0,1076.0L282.1,1076.0L286.1,1076.0L290.1,1076.0L294.1,1076.0L298.1,1076.0L302.2,1075.9L306.2,1075.8L310.2,1075.8L314.2,1075.7L318.2,1075.6L322.2,1075.5L326.3,1075.3L330.3,1075.2L334.3,1075.0L338.3,1074.8L342.3,1074.6L346.3,1074.4L350.3,1074.2L354.3,1073.9L358.3,1073.6L362.3,1073.3L366.3,1073.0L370.3,1072.7L374.3,1072.3L378.3,1071.9L382.3,1071.5L386.3,1071.1L390.2,1070.6L394.2,1070.2L398.2,1069.7L402.2,1069.2L406.2,1068.7L410.2,1068.2L414.2,1067.7L418.1,1067.2L422.1,1066.6L426.1,1066.1L430.1,1065.6L434.1,1065.1L438.0,1064.7L442.0,1064.2L446.0,1063.7L450.0,1063.3L454.0,1062.8L458.0,1062.4L462.0,1062.0L466.0,1061.6L469.9,1061.1L473.9,1060.7L477.9,1060.4L481.9,1060.0L485.9,1059.6L489.9,1059.2L493.9,1058.9L497.9,1058.5L501.9,1058.2L505.9,1057.8L509.9,1057.5L513.9,1057.2L517.9,1056.8L521.9,1056.5L525.9,1056.2L529.9,1055.9L533.9,1055.6L537.9,1055.3L541.9,1055.0L545.9,1054.7L549.9,1054.5L553.9,1054.2L557.9,1053.9L561.9,1053.7L565.9,1053.4L569.9,1053.1L573.9,1052.9L577.9,1052.6L581.9,1052.4L585.9,1052.1L589.9,1051.9L593.9,1051.6L597.9,1051.4L601.9,1051.2L605.9,1050.9L609.9,1050.7L613.9,1050.5L617.9,1050.2L621.9,1050.0L626.0,1049.8L630.0,1049.5L634.0,1049.3L638.0,1049.1L642.0,1048.9L646.0,1048.6L650.0,1048.4L654.0,1048.2L658.0,1048.0L662.1,1047.7L666.1,1047.5L670.1,1047.3L674.1,1047.0L678.1,1046.8L682.1,1046.6L686.1,1046.3L690.1,1046.1L694.2,1045.8L698.2,1045.6L702.2,1045.3L706.2,1045.1L710.2,1044.8L714.2,1044.6L718.2,1044.3L722.3,1044.0L726.3,1043.8L730.3,1043.5L734.3,1043.2L738.3,1042.9L742.3,1042.6L746.3,1042.3L750.3,1042.0L754.3,1041.7L758.3,1041.4L762.4,1041.1L766.4,1040.7L770.4,1040.4L774.4,1040.1L778.4,1039.7L782.4,1039.4L786.4,1039.0L790.4,1038.6L794.4,1038.2L798.4,1037.8L802.4,1037.4L806.4,1037.0L810.4,1036.6L814.3,1036.2L818.3,1035.7L822.3,1035.3L826.3,1034.8L830.3,1034.4L834.3,1033.9L838.3,1033.4L842.2,1032.9L846.2,1032.4L850.2,1031.9L854.2,1031.3L858.1,1030.8L862.1,1030.2L866.1,1029.7L870.0,1029.1L874.0,1028.5L878.0,1027.9L881.9,1027.3L885.9,1026.6L889.8,1026.0L893.8,1025.3L897.7,1024.6L901.7,1023.9L905.6,1023.2L909.6,1022.5L913.5,1021.8L917.4,1021.0L921.4,1020.2L925.3,1019.5L929.2,1018.7L933.2,1017.8L937.1,1017.0L941.0,1016.2L944.9,1015.3L948.8,1014.4L952.7,1013.5L956.6,1012.6L960.5,1011.7L964.4,1010.7L968.3,1009.7L972.2,1008.8L976.1,1007.8L980.0,1006.8L983.9,1005.8L987.8,1004.7L991.7,1003.7L995.6,1002.7L999.5,1001.6L1003.3,1000.5L1007.2,999.5L1011.1,998.4L1015.0,997.3L1018.9,996.2L1022.8,995.1L1026.7,994.0L1030.5,992.9L1034.4,991.8L1038.3,990.7L1042.2,989.6L1046.1,988.5L1050.0,987.4L1053.8,986.3L1057.7,985.1L1061.6,984.0L1065.5,982.8L1069.3,981.6L1073.2,980.4L1077.0,979.2L1080.8,977.9L1084.6,976.6L1088.4,975.3L1092.2,973.9L1095.9,972.5L1099.7,971.1L1103.4,969.6L1107.1,968.0L1110.7,966.5L1114.4,964.8L1118.0,963.1L1121.6,961.4L1125.1,959.6L1128.6,957.7L1132.1,955.8L1135.6,953.8L1139.0,951.8L1142.4,949.7L1145.8,947.5L1149.1,945.3L1152.4,943.1L1155.7,940.8L1158.9,938.4L1162.2,936.0L1165.4,933.6L1168.5,931.1L1171.7,928.6L1174.8,926.0L1177.9,923.4L1181.0,920.8L1184.0,918.1L1187.0,915.5L1190.0,912.7L1193.0,910.0L1195.9,907.2L1198.9,904.4L1201.8,901.6L1204.6,898.8L1207.5,895.9L1210.3,893.0L1213.1,890.1L1215.9,887.2L1218.7,884.3L1221.4,881.3L1224.1,878.3L1226.8,875.3L1229.5,872.3L1232.1,869.2L1234.7,866.2L1237.3,863.1L1239.8,860.0L1242.3,856.8L1244.8,853.7L1247.3,850.5L1249.7,847.3L1252.1,844.0L1254.5,840.8L1256.8,837.5L1259.1,834.2L1261.4,830.9L1263.7,827.6L1265.9,824.2L1268.0,820.8L1270.2,817.4L1272.3,814.0L1274.4,810.5L1276.4,807.0L1278.4,803.6L1280.4,800.0L1282.4,796.5L1284.3,793.0L1286.2,789.4L1288.0,785.8L1289.8,782.2L1291.6,778.6L1293.4,775.0L1295.1,771.4L1296.8,767.7L1298.5,764.1L1300.2,760.4L1301.8,756.7L1303.3,753.0L1304.9,749.3L1306.4,745.6L1307.9,741.9L1309.4,738.1L1310.8,734.4L1312.2,730.6L1313.6,726.9L1314.9,723.1L1316.3,719.3L1317.6,715.5L1318.9,711.7L1320.1,707.9L1321.3,704.1L1322.6,700.3L1323.8,696.5L1324.9,692.6L1326.1,688.8L1327.2,685.0L1328.3,681.1L1329.4,677.3L1330.5,673.4L1331.6,669.5L1332.6,665.7L1333.7,661.8L1334.7,657.9L1335.7,654.0L1336.7,650.1L1337.7,646.3L1338.7,642.4L1339.6,638.5L1340.6,634.6L1341.5,630.7L1342.5,626.8L1343.4,622.8L1344.3,618.9L1345.2,615.0L1346.2,611.1L1347.1,607.2L1348.0,603.3L1348.9,599.4L1349.8,595.4L1350.7,591.5L1351.6,587.6L1352.5,583.7L1353.4,579.8L1354.3,575.8L1355.2,571.9L1356.1,568.0L1357.0,564.1L1357.9,560.2L1358.8,556.3L1359.7,552.3L1360.6,548.4L1361.5,544.5L1362.5,540.6L1363.4,536.7L1364.3,532.8L1365.2,528.9L1366.2,525.0L1367.1,521.1L1368.0,517.1L1369.0,513.2L1369.9,509.3L1370.9,505.4L1371.8,501.5L1372.7,497.6L1373.7,493.7L1374.6,489.8L1375.5,485.9L1376.5,482.0L1377.4,478.1L1378.3,474.2L1379.3,470.3L1380.2,466.4L1381.1,462.5L1382.1,458.6L1383.0,454.7L1383.9,450.7L1384.9,446.8L1385.8,442.9L1386.7,439.0L1387.6,435.1L1388.5,431.2L1389.4,427.3L1390.3,423.4L1391.2,419.5L1392.1,415.6L1393.0,411.7L1393.9,407.7L1394.8,403.8L1395.7,399.9L1396.6,396.0L1397.4,392.1L1398.3,388.2L1399.2,384.3L1400.0,380.3L1400.9,376.4L1401.7,372.5L1402.5,368.6L1403.4,364.6L1404.2,360.7L1405.0,356.8L1405.8,352.9L1406.6,348.9L1407.4,345.0L1408.2,341.1L1409.0,337.1L1409.7,333.2L1410.5,329.3L1411.3,325.3L1412.0,321.4L1412.7,317.4L1413.5,313.5L1414.2,309.5L1414.9,305.6L1415.6,301.6L1416.3,297.7L1417.0,293.7L1417.6,289.8L1418.3,285.8L1418.9,281.9L1419.6,277.9L1420.2,273.9L1420.8,269.9L1421.4,266.0L1422.0,262.0" stroke="#00cc3a" stroke-width="12" stroke-dasharray="49 45.5" stroke-dashoffset="7"/>
<path d="M270.0,1162.0L274.0,1161.4L278.0,1160.9L281.9,1160.3L285.9,1159.7L289.9,1159.2L293.9,1158.6L297.9,1158.1L301.8,1157.6L305.8,1157.1L309.8,1156.6L313.8,1156.1L317.8,1155.7L321.8,1155.2L325.7,1154.7L329.7,1154.3L333.7,1153.9L337.7,1153.4L341.7,1153.0L345.7,1152.6L349.7,1152.2L353.7,1151.8L357.7,1151.4L361.7,1151.1L365.7,1150.7L369.7,1150.3L373.7,1150.0L377.7,1149.6L381.7,1149.3L385.6,1149.0L389.6,1148.6L393.6,1148.3L397.6,1148.0L401.6,1147.7L405.6,1147.4L409.6,1147.1L413.6,1146.8L417.6,1146.5L421.7,1146.2L425.7,1146.0L429.7,1145.7L433.7,1145.4L437.7,1145.1L441.7,1144.9L445.7,1144.6L449.7,1144.4L453.7,1144.1L457.7,1143.9L461.7,1143.6L465.7,1143.4L469.7,1143.2L473.7,1142.9L477.7,1142.7L481.7,1142.4L485.7,1142.2L489.7,1142.0L493.7,1141.8L497.7,1141.5L501.8,1141.3L505.8,1141.1L509.8,1140.9L513.8,1140.6L517.8,1140.4L521.8,1140.2L525.8,1140.0L529.8,1139.7L533.8,1139.5L537.8,1139.3L541.8,1139.0L545.8,1138.8L549.8,1138.6L553.8,1138.4L557.8,1138.1L561.8,1137.9L565.9,1137.6L569.9,1137.4L573.9,1137.2L577.9,1136.9L581.9,1136.7L585.9,1136.4L589.9,1136.2L593.9,1135.9L597.9,1135.6L601.9,1135.4L605.9,1135.1L609.9,1134.8L613.9,1134.5L617.9,1134.3L621.9,1134.0L625.9,1133.7L629.9,1133.4L633.9,1133.1L637.9,1132.7L641.9,1132.4L645.9,1132.1L649.9,1131.8L653.9,1131.4L657.9,1131.1L661.9,1130.7L665.9,1130.4L669.9,1130.0L673.9,1129.6L677.9,1129.3L681.9,1128.9L685.9,1128.5L689.8,1128.1L693.8,1127.7L697.8,1127.2L701.8,1126.8L705.8,1126.4L709.8,1125.9L713.8,1125.5L717.8,1125.0L721.8,1124.5L725.7,1124.0L729.7,1123.5L733.7,1123.0L737.7,1122.5L741.7,1122.0L745.7,1121.5L749.6,1121.0L753.6,1120.5L757.6,1120.0L761.6,1119.5L765.6,1119.0L769.5,1118.4L773.5,1117.9L777.5,1117.4L781.5,1116.9L785.5,1116.4L789.5,1115.9L793.4,1115.4L797.4,1114.9L801.4,1114.4L805.4,1113.9L809.4,1113.4L813.4,1112.9L817.3,1112.5L821.3,1112.0L825.3,1111.6L829.3,1111.1L833.3,1110.7L837.3,1110.3L841.3,1109.9L845.2,1109.5L849.2,1109.1L853.2,1108.8L857.2,1108.4L861.2,1108.1L865.2,1107.8L869.2,1107.5L873.2,1107.2L877.2,1106.9L881.2,1106.7L885.2,1106.4L889.2,1106.2L893.2,1106.0L897.2,1105.8L901.2,1105.6L905.2,1105.3L909.2,1105.1L913.2,1104.9L917.2,1104.7L921.2,1104.4L925.2,1104.2L929.3,1103.9L933.3,1103.6L937.3,1103.3L941.3,1103.0L945.3,1102.6L949.3,1102.3L953.3,1101.8L957.3,1101.4L961.3,1100.9L965.3,1100.4L969.3,1099.9L973.3,1099.3L977.2,1098.7L981.2,1098.1L985.2,1097.4L989.2,1096.7L993.2,1096.0L997.2,1095.2L1001.1,1094.5L1005.1,1093.7L1009.1,1092.9L1013.0,1092.1L1017.0,1091.2L1021.0,1090.4L1024.9,1089.5L1028.8,1088.7L1032.8,1087.8L1036.7,1087.0L1040.6,1086.1L1044.6,1085.2L1048.5,1084.4L1052.4,1083.5L1056.3,1082.7L1060.2,1081.8L1064.1,1081.0L1067.9,1080.2L1071.8,1079.4L1075.7,1078.5L1079.5,1077.7L1083.4,1076.9L1087.3,1076.1L1091.1,1075.3L1094.9,1074.5L1098.8,1073.6L1102.6,1072.8L1106.5,1071.9L1110.3,1071.1L1114.2,1070.2L1118.0,1069.3L1121.8,1068.3L1125.7,1067.4L1129.5,1066.4L1133.4,1065.4L1137.2,1064.4L1141.1,1063.3L1144.9,1062.2L1148.8,1061.1L1152.7,1059.9L1156.5,1058.7L1160.4,1057.5L1164.3,1056.2L1168.2,1054.8L1172.0,1053.5L1175.9,1052.1L1179.8,1050.6L1183.6,1049.2L1187.5,1047.6L1191.3,1046.1L1195.1,1044.5L1198.9,1042.8L1202.7,1041.1L1206.4,1039.4L1210.2,1037.6L1213.9,1035.8L1217.6,1034.0L1221.2,1032.1L1224.9,1030.1L1228.5,1028.1L1232.0,1026.1L1235.6,1024.0L1239.1,1021.9L1242.5,1019.7L1246.0,1017.5L1249.3,1015.2L1252.7,1012.9L1256.0,1010.5L1259.2,1008.1L1262.4,1005.7L1265.5,1003.2L1268.6,1000.6L1271.7,998.0L1274.6,995.4L1277.6,992.7L1280.4,989.9L1283.2,987.1L1286.0,984.2L1288.6,981.3L1291.2,978.4L1293.8,975.4L1296.2,972.3L1298.6,969.2L1300.9,966.0L1303.2,962.8L1305.3,959.5L1307.4,956.2L1309.4,952.8L1311.3,949.3L1313.2,945.9L1315.0,942.3L1316.7,938.8L1318.4,935.2L1320.0,931.5L1321.5,927.8L1323.0,924.1L1324.4,920.4L1325.8,916.6L1327.2,912.8L1328.5,909.0L1329.8,905.1L1331.0,901.3L1332.2,897.4L1333.4,893.5L1334.5,889.6L1335.6,885.7L1336.7,881.8L1337.8,877.8L1338.9,873.9L1339.9,870.0L1341.0,866.0L1342.0,862.1L1343.0,858.2L1344.0,854.3L1345.0,850.3L1346.0,846.4L1346.9,842.5L1347.9,838.5L1348.8,834.6L1349.8,830.7L1350.7,826.7L1351.6,822.8L1352.5,818.9L1353.4,814.9L1354.3,811.0L1355.1,807.0L1356.0,803.1L1356.8,799.2L1357.7,795.2L1358.5,791.3L1359.3,787.4L1360.1,783.4L1360.9,779.5L1361.7,775.5L1362.5,771.6L1363.3,767.7L1364.0,763.7L1364.8,759.8L1365.6,755.8L1366.3,751.9L1367.0,747.9L1367.7,744.0L1368.5,740.1L1369.2,736.1L1369.9,732.2L1370.6,728.2L1371.2,724.3L1371.9,720.3L1372.6,716.4L1373.3,712.4L1373.9,708.5L1374.6,704.5L1375.2,700.6L1375.9,696.6L1376.5,692.7L1377.1,688.7L1377.8,684.8L1378.4,680.8L1379.0,676.9L1379.6,672.9L1380.2,668.9L1380.8,665.0L1381.4,661.0L1382.0,657.1L1382.6,653.1L1383.1,649.1L1383.7,645.2L1384.3,641.2L1384.8,637.3L1385.4,633.3L1386.0,629.3L1386.5,625.4L1387.1,621.4L1387.6,617.4L1388.2,613.5L1388.7,609.5L1389.3,605.5L1389.8,601.6L1390.3,597.6L1390.9,593.6L1391.4,589.6L1391.9,585.7L1392.5,581.7L1393.0,577.7L1393.5,573.7L1394.0,569.8L1394.6,565.8L1395.1,561.8L1395.6,557.8L1396.1,553.8L1396.6,549.9L1397.1,545.9L1397.6,541.9L1398.1,537.9L1398.6,533.9L1399.1,529.9L1399.6,526.0L1400.1,522.0L1400.6,518.0L1401.0,514.0L1401.5,510.0L1402.0,506.0L1402.5,502.0L1402.9,498.0L1403.4,494.1L1403.9,490.1L1404.3,486.1L1404.8,482.1L1405.2,478.1L1405.7,474.1L1406.1,470.1L1406.5,466.1L1407.0,462.1L1407.4,458.1L1407.8,454.1L1408.2,450.1L1408.7,446.1L1409.1,442.1L1409.5,438.1L1409.9,434.1L1410.3,430.1L1410.7,426.1L1411.0,422.1L1411.4,418.1L1411.8,414.1L1412.2,410.1L1412.6,406.1L1412.9,402.1L1413.3,398.1L1413.6,394.1L1414.0,390.1L1414.3,386.1L1414.7,382.1L1415.0,378.1L1415.3,374.1L1415.6,370.1L1415.9,366.1L1416.3,362.1L1416.6,358.1L1416.9,354.1L1417.2,350.1L1417.4,346.1L1417.7,342.1L1418.0,338.1L1418.3,334.1L1418.5,330.1L1418.8,326.1L1419.0,322.1L1419.3,318.1L1419.5,314.1L1419.7,310.1L1420.0,306.1L1420.2,302.1L1420.4,298.0L1420.6,294.0L1420.8,290.0L1421.0,286.0L1421.2,282.0L1421.4,278.0L1421.5,274.0L1421.7,270.0L1421.8,266.0L1422.0,262.0" stroke="#00cc3a" stroke-width="12" stroke-dasharray="49 45.5" stroke-dashoffset="81"/>
</g>
<g>
<text transform="matrix(0.7884 0 0 0.7373 121.20 89.96)" font-size="100" stroke="#fff" stroke-width="0.92">12</text>
<text transform="matrix(0.7793 0 0 0.7206 121.29 255.56)" font-size="100" stroke="#fff" stroke-width="0.93">10</text>
<text transform="matrix(0.8405 0 0 0.7353 157.04 426.43)" font-size="100" stroke="#fff" stroke-width="0.89">8</text>
<text transform="matrix(0.8209 0 0 0.7176 157.12 592.36)" font-size="100" stroke="#fff" stroke-width="0.91">6</text>
<text transform="matrix(0.7826 0 0 0.7348 158.43 758.77)" font-size="100" stroke="#fff" stroke-width="0.92">4</text>
<text transform="matrix(0.8683 0 0 0.7418 156.93 930.96)" font-size="100" stroke="#fff" stroke-width="0.87">2</text>
<text transform="matrix(0.8476 0 0 0.7088 157.01 1095.58)" font-size="100" stroke="#fff" stroke-width="0.90">0</text>
<text transform="matrix(0.8041 0 0 0.7612 133.28 1264.24)" font-size="100" stroke="#fff" stroke-width="0.89">-2</text>
<text transform="matrix(0.7641 0 0 0.7324 224.24 1199.54)" font-size="100" stroke="#fff" stroke-width="0.94">0.3</text>
<text transform="matrix(0.7444 0 0 0.7324 416.72 1199.54)" font-size="100" stroke="#fff" stroke-width="0.95">0.5</text>
<text transform="matrix(0.7754 0 0 0.7324 611.20 1199.54)" font-size="100" stroke="#fff" stroke-width="0.93">0.7</text>
<text transform="matrix(0.7675 0 0 0.7324 803.93 1199.54)" font-size="100" stroke="#fff" stroke-width="0.93">0.9</text>
<text transform="matrix(0.7427 0 0 0.7433 997.92 1200.26)" font-size="100" stroke="#fff" stroke-width="0.94">1.1</text>
<text transform="matrix(0.7589 0 0 0.7433 1190.67 1200.26)" font-size="100" stroke="#fff" stroke-width="0.93">1.3</text>
<text transform="matrix(0.7625 0 0 0.7433 1384.74 1200.26)" font-size="100" stroke="#fff" stroke-width="0.93">1.5</text>
<text transform="matrix(0.8281 0 0 0.8722 822.92 1375.98)" font-size="100" stroke="#fff" stroke-width="0.94">E (V)</text>
<text transform="matrix(0 -0.8577 0.8889 0 108.63 750.43)" font-size="100" stroke="#fff" stroke-width="0.34">I (µA)</text>
<text transform="matrix(0.7055 0 0 0.6978 1462.58 138.65)" font-size="100" font-style="italic" stroke="#fff" stroke-width="1.00">(4)</text>
<text transform="matrix(0.7055 0 0 0.6844 1462.58 335.93)" font-size="100" font-style="italic" stroke="#fff" stroke-width="1.01">(3)</text>
<text transform="matrix(0.7055 0 0 0.6833 1462.58 717.95)" font-size="100" font-style="italic" stroke="#fff" stroke-width="1.01">(2)</text>
<text transform="matrix(0.7055 0 0 0.6833 1462.58 965.45)" font-size="100" font-style="italic" stroke="#fff" stroke-width="1.01">(1)</text>
</g>
<rect x="267.7" y="1185" width="4" height="30" fill="#000"/>
</svg></body></html>
